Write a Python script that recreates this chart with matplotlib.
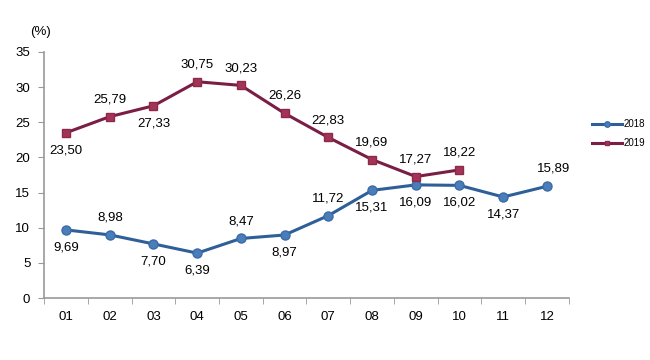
import matplotlib.pyplot as plt
import numpy as np

months = ["01", "02", "03", "04", "05", "06", "07", "08", "09", "10", "11", "12"]
v2018 = [9.69, 8.98, 7.70, 6.39, 8.47, 8.97, 11.72, 15.31, 16.09, 16.02, 14.37, 15.89]
v2019 = [23.50, 25.79, 27.33, 30.75, 30.23, 26.26, 22.83, 19.69, 17.27, 18.22]
# label placement: 1 = above, -1 = below
pos2018 = [-1, 1, -1, -1, 1, -1, 1, -1, -1, -1, -1, 1]
pos2019 = [-1, 1, -1, 1, 1, 1, 1, 1, 1, 1]

plt.rcParams['font.family'] = ['Liberation Sans', 'DejaVu Sans']

fig = plt.figure(figsize=(6.5, 3.6), dpi=100, facecolor='white')
ax = fig.add_axes([0.068, 0.172, 0.807, 0.684])

x = np.arange(len(months))
ax.plot(x, v2018, color='#2F5F98', linewidth=2.2, marker='o', markersize=6.5,
        markerfacecolor='#4A7EBB', markeredgecolor='#3A6BA5', label='2018', zorder=3)
ax.plot(x[:len(v2019)], v2019, color='#7B1E45', linewidth=2.2, marker='s', markersize=6,
        markerfacecolor='#A33458', markeredgecolor='#8C2A4C', label='2019', zorder=3)

def fmt(v):
    return f"{v:.2f}".replace('.', ',')

for xi, v, p in zip(x, v2018, pos2018):
    dx = 5 if xi == 11 else 0
    ax.annotate(fmt(v), (xi, v), xytext=(dx, 12.5 * p), textcoords='offset points',
                ha='center', va='center', fontsize=9.5)
for xi, v, p in zip(x, v2019, pos2019):
    ax.annotate(fmt(v), (xi, v), xytext=(0, 12.5 * p), textcoords='offset points',
                ha='center', va='center', fontsize=9.5)

ax.set_xlim(-0.5, 11.5)
ax.set_ylim(0, 35)
ax.set_yticks(range(0, 36, 5))
ax.set_xticks(x)
ax.set_xticklabels(months)
ax.set_xticks(np.arange(-0.5, 12, 1), minor=True)
ax.tick_params(axis='x', which='major', length=0, pad=9, labelsize=9.5)
ax.tick_params(axis='x', which='minor', length=4, color='#999999')
ax.tick_params(axis='y', length=4, color='#999999', labelsize=9.5, pad=6)

for s in ['top', 'right']:
    ax.spines[s].set_visible(False)
for s in ['left', 'bottom']:
    ax.spines[s].set_color('#999999')
    ax.spines[s].set_linewidth(1.2)

fig.text(0.062, 0.91, "(%)", fontsize=9.5, ha='center', va='center')

ax.legend(loc='center left', bbox_to_anchor=(1.045, 0.667), frameon=False, fontsize=7,
          handlelength=3.0, handletextpad=0.2, labelspacing=0.9, markerscale=0.6,
          borderpad=0, borderaxespad=0)

fig.savefig("out.png", dpi=100, facecolor='white')
